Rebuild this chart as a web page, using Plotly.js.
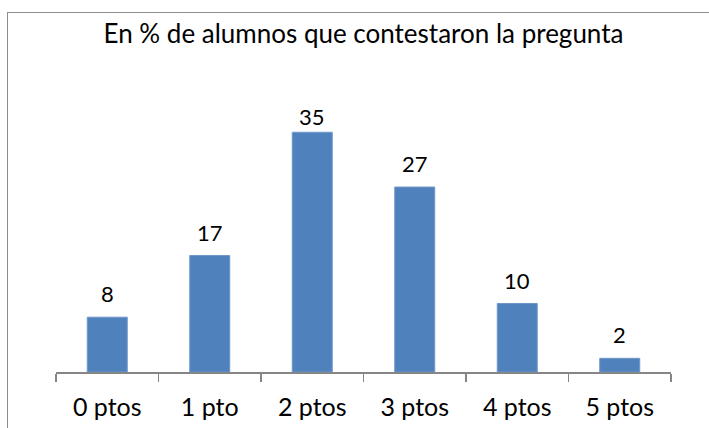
<!DOCTYPE html>
<html>
<head>
<meta charset="utf-8">
<script src="https://cdn.plot.ly/plotly-3.0.1.min.js"></script>
<style>
  html, body { margin: 0; padding: 0; background: #fff; overflow: hidden; }
  #chart { width: 709px; height: 428px; position: absolute; left: 0; top: 0; }
  /* frame of the original chart, cropped at right and bottom */
  #frame { position: absolute; left: 7px; top: 12px; width: 720px; height: 440px;
           border: 1px solid #8c8c8c; box-sizing: border-box; pointer-events: none; }
</style>
</head>
<body>
<div id="chart"></div>
<div id="frame"></div>
<script>
// data
const categories = ['0 ptos', '1 pto', '2 ptos', '3 ptos', '4 ptos', '5 ptos'];
const percents = [8, 17, 35, 27, 10, 2];
const titleText = 'En % de alumnos que contestaron la pregunta';

const FONT = 'Lato, "Noto Sans", sans-serif';
const Y_MAX = 40;
const PLOT_H = 428 - 98 - 56;

const trace = {
  type: 'bar',
  x: categories,
  y: percents,
  marker: { color: '#4F81BD', line: { color: '#6f96c8', width: 1 } },
  hoverinfo: 'x+y'
};

// value labels sit above each bar; the tall one gets pushed down so it stays inside the plot
const labels = categories.map((c, i) => {
  const room = (Y_MAX - percents[i]) / Y_MAX * PLOT_H;
  return {
    x: c, y: percents[i], xref: 'x', yref: 'y',
    text: String(percents[i]), showarrow: false,
    yanchor: 'bottom', yshift: Math.min(8, room - 34),
    font: { family: FONT, size: 22, color: '#000' }
  };
});

const layout = {
  width: 709,
  height: 428,
  margin: { l: 56, r: 38, t: 98, b: 56 },
  paper_bgcolor: '#fff',
  plot_bgcolor: '#fff',
  showlegend: false,
  bargap: 0.61,
  font: { family: FONT, color: '#000' },
  title: {
    text: titleText,
    font: { family: FONT, size: 26, color: '#000' },
    xref: 'paper', x: 0.5, xanchor: 'center',
    yref: 'container', y: 1 - 34 / 428, yanchor: 'middle'
  },
  xaxis: {
    type: 'category',
    showline: true, linecolor: '#868686', linewidth: 1.5,
    ticks: 'outside', tickson: 'boundaries', ticklen: 8,
    tickcolor: '#868686', tickwidth: 1.5,
    ticklabelstandoff: 12,
    tickfont: { family: FONT, size: 25, color: '#000' },
    showgrid: false, zeroline: false, fixedrange: true
  },
  yaxis: {
    range: [0, Y_MAX],
    visible: false,
    showgrid: false, zeroline: false, fixedrange: true
  },
  annotations: labels
};

Plotly.newPlot('chart', [trace], layout, { displayModeBar: false, staticPlot: true });
</script>
</body>
</html>
